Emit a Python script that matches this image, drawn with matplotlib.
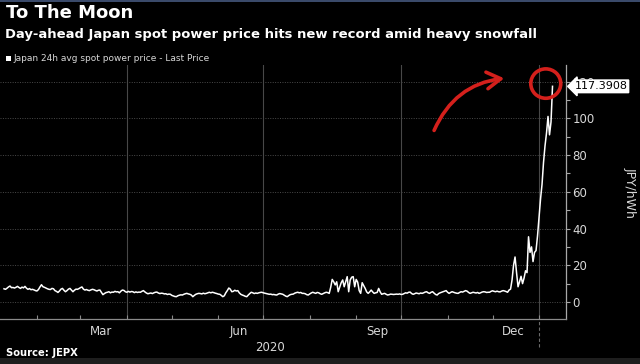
import numpy as np
import pandas as pd
import matplotlib
matplotlib.use("Agg")
import matplotlib.pyplot as plt
import matplotlib.dates as mdates
from matplotlib.patches import Ellipse, Rectangle

# Daily JEPX 24h average spot price (JPY/kWh)
start_date = "2020-01-10"
prices = [
    # Jan - Feb
    7.2, 6.9, 7.5, 8.2, 8.7, 7.8, 7.9, 7.6, 8.0, 8.5, 7.9, 7.4, 8.1, 7.7, 8.5, 7.5, 6.9, 7.3, 6.7, 6.9,
    6.6, 6.2, 6.0, 6.8, 8.2, 9.4, 8.3, 8.0, 7.6, 7.2, 6.9, 6.8, 7.4, 7.2, 6.2, 5.8, 5.2, 6.0, 7.0, 7.4,
    # Feb - Mar
    6.4, 5.6, 6.2, 7.0, 7.4, 6.5, 5.6, 6.4, 7.0, 6.9, 7.3, 7.8, 8.2, 7.0, 6.5, 6.8, 6.4, 6.2, 6.6, 6.9,
    6.7, 6.3, 6.0, 6.4, 6.5, 5.2, 4.0, 4.6, 5.1, 5.3, 5.6, 5.0, 5.4, 5.3, 5.8, 5.5, 5.6, 5.0, 5.9, 6.5,
    # Apr - May
    6.3, 5.6, 5.3, 5.8, 5.4, 5.7, 5.6, 5.1, 5.5, 5.2, 5.4, 5.3, 5.8, 6.2, 5.5, 4.9, 4.5, 4.7, 4.9, 4.6,
    5.0, 5.3, 5.4, 4.9, 4.6, 4.8, 4.7, 4.4, 4.5, 4.1, 4.3, 4.2, 3.6, 3.3, 3.0, 2.9, 3.4, 3.7, 3.9, 3.8,
    # May - Jun
    4.2, 4.5, 4.7, 4.4, 4.2, 3.8, 2.9, 3.6, 4.2, 4.5, 4.7, 4.6, 4.4, 4.8, 4.5, 4.7, 5.0, 5.3, 5.0, 5.3,
    5.1, 4.8, 4.6, 4.3, 4.2, 3.6, 2.9, 3.4, 5.0, 6.2, 7.6, 7.0, 5.6, 5.8, 6.4, 6.0, 6.2, 5.0, 4.2, 3.8,
    # Jun - Jul
    3.5, 3.1, 2.9, 3.8, 4.6, 5.3, 5.0, 4.6, 4.9, 4.7, 5.0, 5.2, 5.3, 5.0, 4.8, 4.6, 4.4, 4.2, 4.3, 4.0,
    4.1, 3.9, 3.8, 4.3, 4.6, 4.4, 4.2, 3.7, 3.2, 2.9, 3.5, 4.0, 4.2, 4.3, 4.8, 5.1, 5.3, 5.0, 5.2, 4.7,
    # Jul - Aug
    4.7, 4.5, 4.0, 3.8, 4.4, 4.9, 5.3, 5.0, 4.7, 5.2, 5.0, 4.5, 4.2, 4.6, 5.0, 5.3, 5.1, 4.7, 8.0, 12.3,
    11.0, 9.3, 11.0, 5.6, 8.0, 10.5, 12.0, 8.3, 11.0, 13.8, 5.6, 12.0, 13.5, 13.8, 8.3, 12.3, 10.8, 6.2, 4.7, 10.5,
    # Sep - Oct
    9.0, 7.4, 5.5, 4.7, 5.5, 6.5, 5.5, 4.7, 5.0, 5.2, 7.4, 5.5, 4.2, 4.5, 4.7, 4.2, 3.8, 4.0, 4.3, 4.2,
    4.1, 4.2, 4.3, 4.2, 4.4, 4.1, 4.2, 4.6, 5.0, 4.8, 5.3, 5.4, 4.6, 4.2, 4.5, 4.9, 4.7, 4.5, 4.9, 4.7,
    # Oct - Nov
    5.0, 5.4, 5.6, 5.0, 4.7, 5.3, 5.6, 4.8, 4.1, 3.8, 4.6, 5.0, 5.3, 5.6, 5.9, 6.2, 5.3, 4.7, 5.2, 5.6,
    5.3, 5.0, 4.8, 4.7, 5.2, 5.6, 5.4, 5.8, 6.2, 5.9, 5.2, 4.7, 5.0, 5.3, 5.1, 4.9, 5.2, 4.7, 5.0, 5.4,
    # Nov - Dec
    5.6, 5.5, 5.2, 5.3, 5.3, 5.8, 6.1, 5.8, 5.6, 5.9, 5.6, 5.5, 5.9, 6.2, 6.0, 5.7, 5.3,
    # Dec spike into January 2021
    6.5, 7.0, 12.0, 20.0, 24.5, 16.0, 8.3, 11.0, 14.0, 10.0, 13.0, 17.0, 16.0, 35.5, 27.0, 30.0, 22.0, 27.0,
    28.0, 36.0, 46.0, 56.0, 64.0, 76.0, 85.0, 92.0, 101.0, 91.0, 98.0, 117.3908,
]

y_ticks = [0, 20, 40, 60, 80, 100, 120]

dates = pd.date_range(start_date, periods=len(prices), freq="D")
series = pd.Series(prices, index=dates)

BG = "#000000"
FG = "#d8d8d8"
RED = "#d4201c"

fig = plt.figure(figsize=(6.4, 3.64), dpi=100, facecolor=BG)
ax = fig.add_axes([0.0, 45 / 364, 566 / 640, 254 / 364], facecolor=BG)

ax.plot(series.index, series.values, color="white", lw=1.1, zorder=4)

ax.set_xlim(pd.Timestamp("2020-01-07 08:00"), pd.Timestamp("2021-01-19"))
ax.set_ylim(-9.25, 129)

# spines
for s in ["left", "top"]:
    ax.spines[s].set_visible(False)
ax.spines["bottom"].set_color("#8a8a8a")
ax.spines["right"].set_color("#a8a8a8")
ax.spines["bottom"].set_linewidth(0.9)
ax.spines["right"].set_linewidth(0.9)

# y axis on the right
ax.yaxis.tick_right()
ax.set_yticks(y_ticks)
ax.set_yticks(np.arange(10, 130, 20), minor=True)
ax.tick_params(axis="y", which="both", colors="#a8a8a8", labelcolor=FG,
               labelsize=8.5, length=3, width=0.8, pad=1.5, direction="out")
ax.yaxis.grid(True, which="major", color="#4a4a4a", linestyle=(0, (1, 1.5)), lw=0.7)

# x axis: mid-month labels, month-start ticks
ax.xaxis.set_major_locator(mdates.MonthLocator(bymonth=[3, 6, 9, 12], bymonthday=15))
ax.xaxis.set_major_formatter(mdates.DateFormatter("%b"))
ax.xaxis.set_minor_locator(mdates.MonthLocator())
ax.tick_params(axis="x", which="major", length=0, labelsize=8.5, labelcolor=FG, pad=4)
ax.tick_params(axis="x", which="minor", length=3, width=0.8, colors="#8a8a8a", direction="in")

# quarter gridlines
for q in pd.date_range("2020-04-01", "2021-01-01", freq="QS"):
    ax.axvline(q, color="#484848", lw=0.8, zorder=1)

# year separator and year label
year_end = pd.Timestamp("2021-01-01")
ax.axvline(year_end, ymin=-0.11, ymax=0, color="#6a6a6a", lw=0.8,
           linestyle=(0, (3, 2)), clip_on=False)
year_mid = (ax.get_xlim()[0] + mdates.date2num(year_end)) / 2
ax.text(year_mid, -0.085, "2020", transform=ax.get_xaxis_transform(),
        ha="center", va="top", color=FG, fontsize=8.5)

# last price tag (covers the 120 label, as in the original)
last_val = series.iloc[-1]
ax.annotate(f"{last_val:.4f}", xy=(1.0, last_val), xycoords=("axes fraction", "data"),
            xytext=(6, 0), textcoords="offset points", ha="left", va="center",
            fontsize=8, color="black", annotation_clip=False, zorder=6,
            bbox=dict(boxstyle="larrow,pad=0.12", fc="white", ec="white"))

# hand-drawn red circle and arrow
peak_date = series.index[-1]
circ = Ellipse((mdates.date2num(peak_date - pd.Timedelta(days=4.5)), last_val + 1.5),
               width=20, height=16, fill=False, ec=RED, lw=2.6, zorder=5, clip_on=False)
ax.add_patch(circ)
ax.annotate("", xy=(507, 286), xycoords="figure pixels",
            xytext=(433, 231), textcoords="figure pixels",
            arrowprops=dict(arrowstyle="->,head_length=1.0,head_width=0.6",
                            connectionstyle="arc3,rad=-0.3", color=RED, lw=2.6))

# titles and legend
fig.text(6 / 640, 1 - 4 / 364, "To The Moon", color="white", fontsize=13,
         fontweight="bold", ha="left", va="top")
fig.text(5 / 640, 1 - 28 / 364,
         "Day-ahead Japan spot power price hits new record amid heavy snowfall",
         color="white", fontsize=9.45, fontweight="bold", ha="left", va="top")
fig.patches.append(Rectangle((6 / 640, 1 - 61 / 364), 5 / 640, 5 / 364,
                             transform=fig.transFigure, fc="white", ec="none"))
fig.text(13 / 640, 1 - 58.5 / 364, "Japan 24h avg spot power price - Last Price",
         color=FG, fontsize=6.5, ha="left", va="center")
fig.text(630 / 640, 1 - 192 / 364, "JPY/hWh", color=FG, fontsize=9,
         rotation=270, ha="center", va="center")
fig.text(6 / 640, 1 - 353 / 364, "Source: JEPX", color="white", fontsize=7.2,
         fontweight="bold", ha="left", va="center")

# frame strips
fig.patches.append(Rectangle((0, 0), 1, 6 / 364, transform=fig.transFigure,
                             fc="#1e1e1e", ec="none"))
fig.patches.append(Rectangle((0, 1 - 1.5 / 364), 1, 1.5 / 364, transform=fig.transFigure,
                             fc="#3a4a6a", ec="none"))

fig.savefig("out.png", dpi=100, facecolor=BG)
